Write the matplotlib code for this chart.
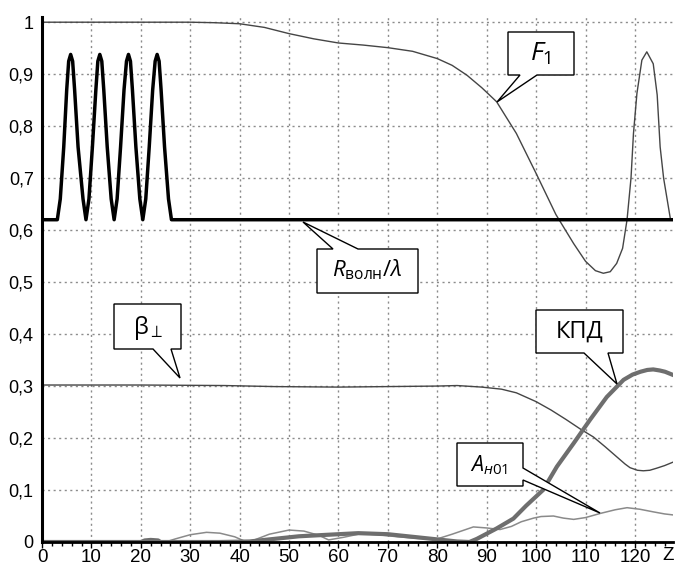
import matplotlib
matplotlib.use('Agg')
import matplotlib.pyplot as plt
from matplotlib.patches import Polygon
from matplotlib.ticker import MultipleLocator, FuncFormatter

# F1 - thin dark line
z_f1 = [0, 30, 35, 40, 45, 50, 55, 60, 65, 70, 75, 80, 83, 86, 89, 92, 96, 100, 104,
        107.6, 110, 112, 113.6, 115, 116.3, 117.5, 118.4, 119.2, 119.7, 120.4, 121.4,
        122.4, 123.7, 124.5, 125.1, 125.8, 126.5, 127.2]
f1 = [1.0, 1.0, 0.999, 0.997, 0.99, 0.978, 0.968, 0.960, 0.956, 0.951, 0.944, 0.930,
      0.917, 0.898, 0.874, 0.847, 0.786, 0.709, 0.630, 0.574, 0.540, 0.522, 0.517,
      0.52, 0.536, 0.565, 0.62, 0.70, 0.786, 0.863, 0.927, 0.943, 0.920, 0.86, 0.76,
      0.70, 0.66, 0.62]

# R_волн / lambda - thick black, four humps
z_r = [0, 3.1, 3.7, 4.4, 5.0, 5.4, 5.8, 6.2, 6.6, 7.3, 8.3, 8.9,
       9.5, 10.2, 10.9, 11.3, 11.7, 12.1, 12.5, 13.2, 14.0, 14.6,
       15.2, 15.9, 16.6, 17.1, 17.5, 17.9, 18.3, 19.0, 19.8, 20.4,
       21.0, 21.7, 22.4, 22.9, 23.3, 23.7, 24.1, 24.8, 25.6, 26.2, 127.7]
r_wave = [0.62, 0.62, 0.66, 0.76, 0.87, 0.925, 0.938, 0.925, 0.87, 0.76, 0.66, 0.62,
          0.66, 0.76, 0.87, 0.925, 0.938, 0.925, 0.87, 0.76, 0.66, 0.62,
          0.66, 0.76, 0.87, 0.925, 0.938, 0.925, 0.87, 0.76, 0.66, 0.62,
          0.66, 0.76, 0.87, 0.925, 0.938, 0.925, 0.87, 0.76, 0.66, 0.62, 0.62]

# beta_perp - thin dark line
z_beta = [0, 20, 37, 47, 60, 70, 80, 84, 89, 93, 96, 100, 103, 106, 109, 111.6, 114,
          116.3, 118, 119, 120.5, 121.7, 123, 124.4, 126, 127.8]
beta = [0.302, 0.302, 0.301, 0.299, 0.298, 0.299, 0.300, 0.301, 0.298, 0.294, 0.287,
        0.270, 0.254, 0.236, 0.217, 0.202, 0.183, 0.164, 0.150, 0.143, 0.138, 0.137,
        0.138, 0.142, 0.147, 0.154]

# КПД - thick gray
z_kpd = [0, 20, 20.8, 22, 23.5, 24, 36, 42, 47, 52, 58, 64, 70, 75, 80, 84, 86.5, 88,
         90, 92, 95.4, 98, 101.4, 104.2, 107.6, 110.9, 114.3, 117.7, 119.5, 121.1,
         122.5, 123.7, 125, 126.1, 127.8]
kpd = [0, 0, 0.003, 0.004, 0.003, 0, 0, 0.001, 0.006, 0.011, 0.014, 0.017, 0.015,
       0.01, 0.005, 0.001, 0.0, 0.006, 0.016, 0.026, 0.045, 0.07, 0.1, 0.145, 0.19,
       0.235, 0.279, 0.312, 0.322, 0.3275, 0.331, 0.332, 0.330, 0.3275, 0.321]

# A_н01 - thin light gray
z_a = [0, 25, 27, 30, 33.3, 36, 39, 41.4, 43, 46, 50, 53, 56, 58, 61, 64.5, 68, 72, 76,
       80, 83, 87.3, 90, 92.7, 95, 97, 99.5, 101, 103.5, 105.5, 107.6, 110, 113, 116,
       118.4, 121, 123.7, 126, 127.8]
a_h01 = [0, 0, 0.006, 0.014, 0.0186, 0.017, 0.01, 0.0, 0.004, 0.015, 0.023, 0.021,
         0.013, 0.004, 0.009, 0.016, 0.014, 0.010, 0.007, 0.006, 0.015, 0.029, 0.027,
         0.024, 0.03, 0.039, 0.046, 0.049, 0.050, 0.046, 0.0435, 0.047, 0.055, 0.062,
         0.066, 0.063, 0.058, 0.054, 0.052]

plt.rcParams['mathtext.fontset'] = 'custom'
plt.rcParams['mathtext.rm'] = 'Open Sans'
plt.rcParams['mathtext.it'] = 'Open Sans:italic'

W, H = 676, 567
fig = plt.figure(figsize=(W / 100, H / 100), dpi=100)
ax = fig.add_axes([42 / W, 1 - 542 / H, (673 - 42) / W, (542 - 17) / H])

ax.plot(z_f1, f1, color='#454545', lw=1.0)
ax.plot(z_beta, beta, color='#454545', lw=1.0)
ax.plot(z_a, a_h01, color='#8a8a8a', lw=1.1)
ax.plot(z_kpd, kpd, color='#6e6e6e', lw=3.0)
ax.plot(z_r, r_wave, color='black', lw=2.5)

ax.set_xlim(0, 127.7)
ax.set_ylim(0, 1.01)
ax.xaxis.set_major_locator(MultipleLocator(10))
ax.xaxis.set_minor_locator(MultipleLocator(2))
ax.yaxis.set_major_locator(MultipleLocator(0.1))
ax.yaxis.set_major_formatter(FuncFormatter(lambda v, p: f'{v:.1f}'.replace('.', ',').replace('1,0', '1').replace('0,0', '0')))
ax.xaxis.set_major_formatter(FuncFormatter(lambda v, p: '' if v > 125 else f'{v:.0f}'))

ax.grid(True, color='#8c8c8c', linestyle=(0, (1.5, 2.5)), lw=1.0)
for s in ['top', 'right']:
    ax.spines[s].set_visible(False)
ax.spines['left'].set_linewidth(2.2)
ax.spines['bottom'].set_linewidth(2.0)
ax.tick_params(axis='y', length=0, pad=6, labelsize=13, labelfontfamily='Liberation Sans')
ax.tick_params(axis='x', which='major', length=4, width=1, pad=1, labelsize=13.5,
               labelfontfamily='Liberation Sans')
ax.tick_params(axis='x', which='minor', length=3, width=1)

fig.text(668 / W, 1 - 555 / H, 'Z', ha='center', va='center', fontsize=13.5,
         family='Liberation Sans')


def px(pts):
    return [(x / W, 1 - y / H) for x, y in pts]


def callout(pts):
    poly = Polygon(px(pts), closed=True, facecolor='white', edgecolor='black', lw=1.0,
                   transform=fig.transFigure, clip_on=False, zorder=5)
    ax.add_patch(poly)


callout([(508, 32), (574, 32), (574, 75), (537, 75), (497, 102), (520, 75), (508, 75)])
callout([(317, 249), (333, 249), (303, 222), (358, 249), (418, 249), (418, 293), (317, 293)])
callout([(114, 304), (181, 304), (181, 349), (171, 349), (180, 378), (153, 349), (114, 349)])
callout([(536, 310), (623, 310), (623, 353), (608, 353), (617, 384), (584, 353), (536, 353)])
callout([(457, 443), (523, 443), (523, 468), (600, 513), (523, 480), (523, 486), (457, 486)])

labels = [
    (541, 54, r'$F_\mathit{1}$', 19),
    (367, 270, r'$R_\mathrm{волн}/\lambda$', 16),
    (148, 328, r'$\mathrm{β}_\perp$', 17),
    (580, 332, 'КПД', 17),
    (489, 465, r'$A_\mathit{н01}$', 15.5),
]
for x, y, t, fs in labels:
    fig.text(x / W, 1 - y / H, t, ha='center', va='center', fontsize=fs,
             family='Open Sans', zorder=6)

fig.savefig('out.png', dpi=100)
